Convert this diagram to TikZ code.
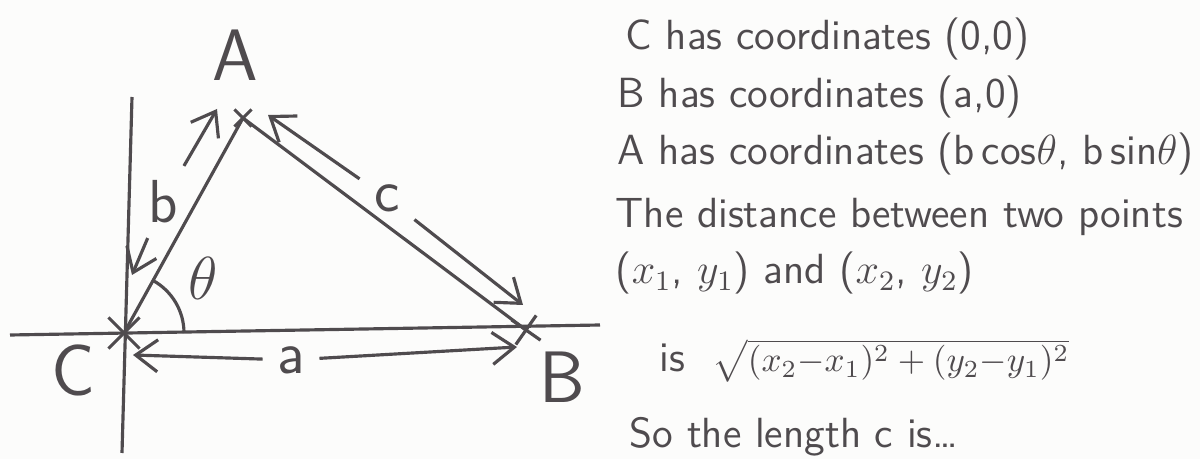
\documentclass[tikz,border=0pt]{standalone}
\usepackage{xcolor}
\usepackage{tikz}
\usetikzlibrary{arrows.meta,shapes.misc}
\definecolor{ink}{HTML}{4F4B4E}
\definecolor{paper}{HTML}{FCFCFB}
\tikzset{
  vert/.style={cross out,draw=ink,line width=0.9pt,minimum size=2mm,inner sep=0pt},
  axis/.style={ink,line width=0.9pt},
  side/.style={ink,line width=0.9pt},
  vlab/.style={text=ink,font=\sffamily\huge},
  slab/.style={text=ink,font=\sffamily\LARGE,inner sep=4pt},
  sarr/.style={-{Straight Barb[length=2.2mm,width=3.2mm]},ink,line width=0.9pt},
  note/.style={text=ink,font=\sffamily\large,anchor=base west,inner sep=0pt},
}

\begin{document}
\begin{tikzpicture}
        \fill[paper] (0,0) rectangle (12,4.59);
        \useasboundingbox (0,0) rectangle (12,4.59);
        \node[vert,minimum size=2.8mm] (C) at (1.24,1.26) {};
        \node[vert,minimum size=1.4mm] (A) at (2.43,3.41) {};
        \node[vert,minimum size=2.2mm,rotate=10] (B) at (5.26,1.29) {};
        \coordinate (xl) at (0.10,1.24); \coordinate (xr) at (6.00,1.34);
        \coordinate (yt) at (1.32,3.62); \coordinate (yb) at (1.22,0.06);
        \draw[axis] (xl) -- (xr);
        \draw[axis] (yt) -- (yb);
        \draw[side] (C.center) -- (A.center) -- (B.center);
        \draw[side] (C.center) ++(0.6,0) arc[start angle=0,end angle=61,radius=0.6];
        \node[vlab] (lA) at (2.35,4.04) {A};
        \node[vlab] (lB) at (5.62,0.82) {B};
        \node[vlab] (lC) at (0.73,0.89) {C};
        \node[slab] (la) at (2.91,0.99) {a};
        \node[slab] (lb) at (1.63,2.57) {b};
        \node[slab] (lc) at (3.87,2.61) {c};
        \node[slab] (lt) at (2.03,1.81) {$\theta$};
        \coordinate (bu) at (2.17,3.50); \coordinate (bd) at (1.32,1.84);
        \coordinate (cu) at (2.68,3.44); \coordinate (cd) at (5.23,1.54);
        \coordinate (al) at (1.33,1.04); \coordinate (ar) at (5.17,1.12);
        \foreach \l/\t in {lb/bu,lb/bd,lc/cu,lc/cd,la/al,la/ar} \draw[sarr] (\l) -- (\t);
        \node[note] (n1) at (6.25,4.09) {C has coordinates (0,0)};
        \node[note] (n2) at (6.17,3.51) {B has coordinates (a,0)};
        \node[note] (n3) at (6.17,2.94) {A has coordinates (b\,cos$\theta$, b\,sin$\theta$)};
        \node[note] (n4) at (6.15,2.31) {The distance between two points};
        \node[note] (n5) at (6.15,1.75) {($x_1$, $y_1$) and ($x_2$, $y_2$)};
        \node[note] (n6) at (6.59,0.87) {is \ \normalsize$\sqrt{(x_2{-}x_1)^2+(y_2{-}y_1)^2}$};
        \node[note] (n7) at (6.29,0.11) {So the length c is\dots};
      \end{tikzpicture}
\end{document}
